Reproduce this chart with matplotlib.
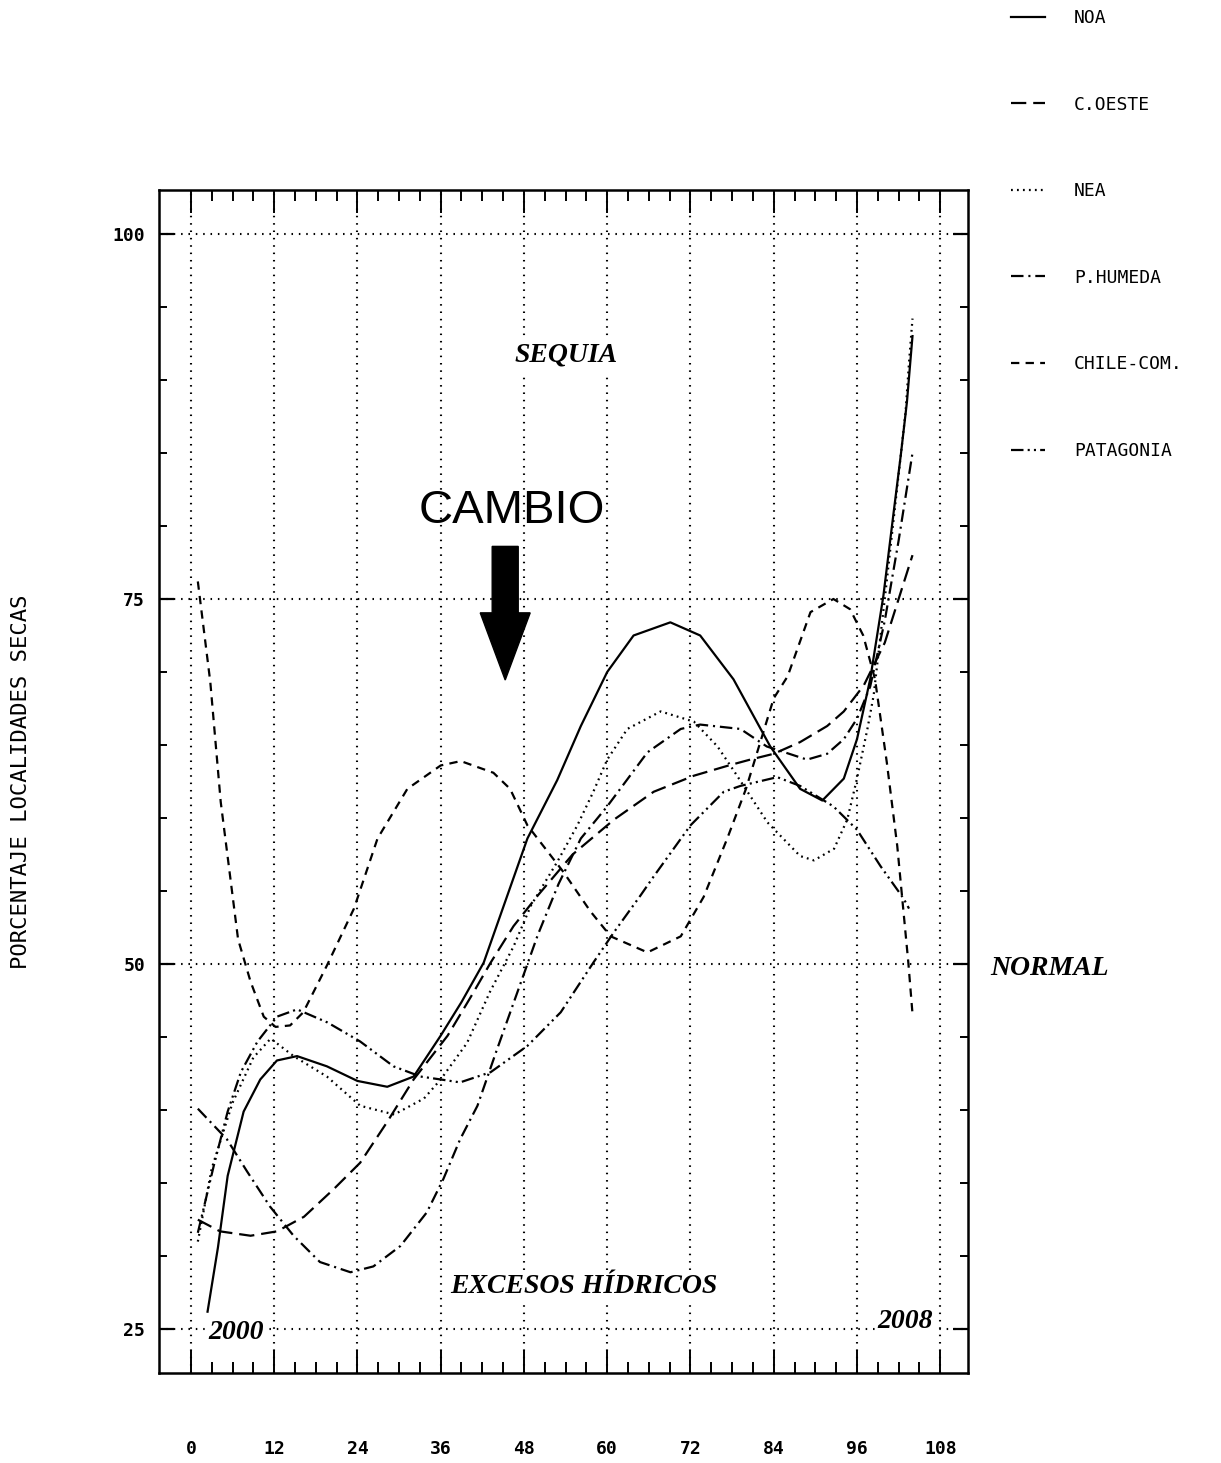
import matplotlib.pyplot as plt
from matplotlib.patches import FancyArrow

plt.rcParams['lines.scale_dashes'] = False

# months since Jan 2000 / percentage of dry stations
noa_x = [2.4, 3.9, 5.3, 7.6, 10, 12.4, 15.3, 19.6, 24, 28.3, 32.1, 36, 39, 42.2, 48.5, 52.8, 56.2, 60, 63.8, 69.1,
         73.4, 78.2, 83.5, 87.8, 91, 94.1, 96, 97.9, 99.8, 101.3, 102.3, 103.2, 104]
noa_y = [26.2, 30.6, 35.5, 39.9, 42.1, 43.4, 43.7, 43.0, 42.0, 41.6, 42.3, 45.1, 47.4, 50.1, 58.6, 62.6, 66.3, 70.0, 72.5, 73.4,
         72.5, 69.5, 64.9, 62.0, 61.2, 62.7, 65.4, 69.5, 75.2, 81.0, 84.8, 88.5, 93.0]

coeste_x = [1, 4.2, 8.6, 12.4, 16.3, 20.6, 24.4, 28.3, 32.1, 37, 40.4, 43.2, 46.5, 50, 55, 61, 66.7, 72.5, 77.5, 80.6,
            84, 87.8, 91.7, 94.1, 97, 100, 102, 104]
coeste_y = [32.5, 31.7, 31.4, 31.7, 32.7, 34.6, 36.4, 39.2, 42.1, 45.1, 47.8, 50.1, 52.6, 54.7, 57.5, 59.9, 61.8, 62.9, 63.6, 64.0,
            64.4, 65.2, 66.3, 67.3, 69.1, 72.0, 75.0, 78.0]

nea_x = [1, 3, 6, 9, 11.5, 14.8, 19.6, 24.4, 29.3, 33.6, 36, 39.8, 43.1, 46.5, 49, 52.8, 55.7, 58, 60, 62.9, 67.7,
         72.5, 75.9, 78.3, 83.1, 87.8, 89.8, 92.7, 94.6, 96, 97.5, 98.4, 100, 102.3, 103, 103.5, 104]
nea_y = [31.0, 36.0, 40.5, 43.6, 44.9, 43.7, 42.3, 40.3, 39.7, 40.8, 42.1, 44.6, 48.1, 51.2, 54.0, 57.0, 59.5, 61.8, 64.0, 66.1, 67.3,
         66.6, 64.9, 63.2, 59.7, 57.4, 57.1, 57.9, 59.9, 62.7, 66.1, 68.4, 75.0, 84.8, 87.8, 91.2, 94.2]

phumeda_x = [1, 2.8, 5.2, 8.1, 11.4, 14.8, 18.6, 23, 26.3, 30.2, 34, 36.4, 38.8, 41.3, 44, 47, 50, 53, 56.2, 60, 65.8,
             70.6, 73.4, 79.2, 83, 88.8, 91.7, 94.1, 96, 97.9, 100, 102, 104]
phumeda_y = [40.1, 39.2, 38.0, 35.8, 33.4, 31.4, 29.6, 28.9, 29.3, 30.7, 33.0, 35.3, 38.0, 40.3, 44.0, 48.0, 52.0, 55.5, 58.6, 60.8, 64.5,
             66.1, 66.4, 66.1, 64.9, 64.0, 64.4, 65.4, 66.8, 69.0, 73.5, 79.0, 85.0]

chile_x = [1, 2.8, 4.3, 6.8, 8.6, 10.5, 12.2, 14.3, 16.2, 19.6, 23.5, 26.9, 31.2, 36, 38.9, 43.6, 46, 48.5, 53.7, 57.6,
           60.5, 65.8, 70.6, 73.9, 77.3, 80, 84, 86, 89.3, 92.6, 95, 96.9, 98.6, 100.3, 101.8, 102.7, 103.4, 104]
chile_y = [76.2, 69.3, 61.1, 51.7, 48.8, 46.4, 45.7, 45.8, 46.7, 49.9, 53.8, 58.6, 62.0, 63.6, 63.9, 63.1, 62.0, 59.5, 56.3, 53.6,
           51.9, 50.8, 51.9, 54.6, 58.6, 62.0, 68.2, 69.7, 74.1, 75.0, 74.3, 72.5, 69.5, 63.8, 58.1, 53.6, 50.1, 46.6]

patag_x = [1, 3.3, 5.3, 7.2, 9.6, 12.4, 15.3, 19.7, 24.4, 29.2, 33.1, 36, 38.8, 43.2, 48.5, 53.3, 58, 61, 64.8, 66.7,
           72, 76.8, 79.2, 84.5, 87.8, 92.6, 96, 99.4, 102.7, 103.5]
patag_y = [31.6, 36.2, 39.9, 42.6, 44.7, 46.4, 46.9, 46.0, 44.7, 43.0, 42.3, 42.1, 41.9, 42.6, 44.4, 46.7, 50.1, 52.2, 54.7, 56.0,
           59.5, 61.8, 62.2, 62.8, 62.2, 60.8, 59.2, 56.7, 54.5, 53.8]

series = [
    ('NOA', noa_x, noa_y, '-'),
    ('C.OESTE', coeste_x, coeste_y, (0, (11, 5))),
    ('NEA', nea_x, nea_y, (0, (1.3, 3))),
    ('P.HUMEDA', phumeda_x, phumeda_y, (0, (9, 3.5, 1.5, 3.5))),
    ('CHILE-COM.', chile_x, chile_y, (0, (6, 4.5))),
    ('PATAGONIA', patag_x, patag_y, (0, (9, 3, 1.5, 3, 1.5, 3))),
]

mono = 'DejaVu Sans Mono'
serif_bi = dict(family='Liberation Serif', weight='bold', style='italic', size=20)

fig = plt.figure(figsize=(12.21, 14.63), dpi=100)
ax = fig.add_axes([0.1302, 0.0615, 0.6626, 0.8086])

for name, xs, ys, ls in series:
    ax.plot(xs, ys, color='black', lw=1.6, linestyle=ls, label=name, zorder=3)

ax.set_xlim(-4.6, 112)
ax.set_ylim(22.0, 103.0)
ax.set_xticks(range(0, 109, 12))
ax.set_xticks(range(0, 109, 3), minor=True)
ax.set_yticks([25, 50, 75, 100])
ax.set_yticks(range(25, 101, 5), minor=True)
ax.set_xticklabels(['0', '12', '24', '36', '48', '60', '72', '84', '96', '108'])
ax.tick_params(axis='x', which='major', direction='in', length=16.5, width=1.4, top=True, pad=48)
ax.tick_params(axis='x', which='minor', direction='in', length=8, width=1.4, top=True)
ax.tick_params(axis='y', which='major', direction='in', length=10.5, width=1.6, right=True, pad=10)
ax.tick_params(axis='y', which='minor', direction='in', length=6, width=1.4, right=True)
for lab in ax.get_xticklabels() + ax.get_yticklabels():
    lab.set_fontfamily(mono)
    lab.set_fontsize(13)
    lab.set_fontweight('bold')
for sp in ax.spines.values():
    sp.set_linewidth(1.8)

ax.grid(True, which='major', color='black', lw=1.5, linestyle=(0, (1.1, 4.2)), zorder=1)

ax.set_ylabel('PORCENTAJE LOCALIDADES SECAS', fontfamily=mono, fontsize=16, labelpad=0)
ax.yaxis.set_label_coords(-0.158, 0.5)

box = dict(facecolor='white', edgecolor='none', pad=3)
ax.text(54.0, 91.7, 'SEQUIA', ha='center', va='center', bbox=box, zorder=4, **serif_bi)
ax.text(56.6, 27.9, 'EXCESOS HÍDRICOS', ha='center', va='center', bbox=box, zorder=4, **serif_bi)
ax.text(6.5, 24.8, '2000', ha='center', va='center', bbox=dict(facecolor='white', edgecolor='none', pad=1), zorder=4, **serif_bi)
ax.text(102.9, 25.5, '2008', ha='center', va='center', bbox=dict(facecolor='white', edgecolor='none', pad=1), zorder=4, **serif_bi)
ax.text(123.8, 49.7, 'NORMAL', ha='center', va='center', clip_on=False, **serif_bi)

ax.text(46.2, 81.0, 'CAMBIO', ha='center', va='center', family='Liberation Sans', fontsize=34, zorder=5)
ax.add_patch(FancyArrow(45.3, 78.6, 0, -9.15, width=3.75, head_width=7.2, head_length=4.6,
                        length_includes_head=True, color='black', zorder=5))

ax.legend(loc='upper left', bbox_to_anchor=(0.815, 1.005), bbox_transform=fig.transFigure, frameon=False,
          prop={'family': mono, 'size': 13}, labelspacing=3.8, handlelength=1.85, handletextpad=1.62)

fig.savefig('out.png', dpi=100)
